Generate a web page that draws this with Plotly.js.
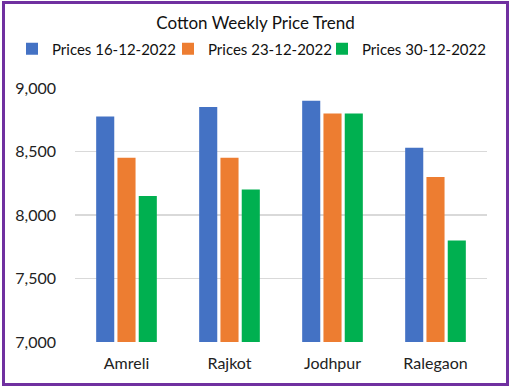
<!DOCTYPE html>
<html><head><meta charset="utf-8">
<script src="https://cdn.plot.ly/plotly-3.0.1.min.js"></script>
<style>
html,body{margin:0;padding:0;background:#fff;}
#wrap{position:relative;width:511px;height:388px;}
#chart{width:511px;height:388px;}
#frame{position:absolute;left:2px;top:1px;width:501px;height:379px;border:3px solid #7030A0;pointer-events:none;}
</style></head>
<body>
<div id="wrap"><div id="chart"></div><div id="frame"></div></div>
<script>
const categories = ["Amreli", "Rajkot", "Jodhpur", "Ralegaon"];
const seriesNames = ["Prices 16-12-2022", "Prices 23-12-2022", "Prices 30-12-2022"];
const prices1612 = [8775, 8850, 8900, 8530];
const prices2312 = [8450, 8450, 8800, 8300];
const prices3012 = [8150, 8200, 8800, 7800];
const yTicks = [7000, 7500, 8000, 8500, 9000];
const yTickLabels = ["7,000", "7,500", "8,000", "8,500", "9,000"];
const colors = ["#4472C4", "#ED7D31", "#00B050"];
const seriesValues = [prices1612, prices2312, prices3012];
const legendIds = ["legend", "legend2", "legend3"];
const legendLeft = [12, 168, 322];

const traces = seriesValues.map((vals, i) => ({
  type: "bar", name: seriesNames[i], x: categories, y: vals,
  marker: {color: colors[i]}, legend: legendIds[i]
}));
const font = "Lato, 'Open Sans', sans-serif";
const layout = {
  width: 511, height: 388,
  margin: {l: 75, r: 24, t: 88, b: 46},
  paper_bgcolor: "#fff", plot_bgcolor: "#fff",
  font: {family: font, color: "#222", size: 15},
  title: {text: "Cotton Weekly Price Trend", x: 0.5, xanchor: "center", y: 0.94, yanchor: "middle",
          font: {family: font, size: 17, color: "#111"}},
  barmode: "group", bargap: 0.38, bargroupgap: 0.15,
  showlegend: true,
  xaxis: {showgrid: false, zeroline: false, showline: false, ticks: "", ticklabelstandoff: 10, tickfont: {size: 16, color: "#222"}},
  yaxis: {range: [7000, 9000], tickvals: yTicks, ticktext: yTickLabels,
          showgrid: true, gridcolor: "#D9D9D9", gridwidth: 1.5, zeroline: false, showline: false,
          ticks: "", ticklabelstandoff: 18, tickfont: {size: 16, color: "#222"}}
};
legendIds.forEach((id, i) => {
  layout[id] = {orientation: "h", xref: "container", yref: "container",
    x: legendLeft[i] / 511, xanchor: "left", y: 1 - 49 / 388, yanchor: "middle",
    font: {family: font, size: 15, color: "#111"}, itemwidth: 30, bgcolor: "rgba(0,0,0,0)"};
});
Plotly.newPlot("chart", traces, layout, {displayModeBar: false, staticPlot: true});
</script>
</body></html>
